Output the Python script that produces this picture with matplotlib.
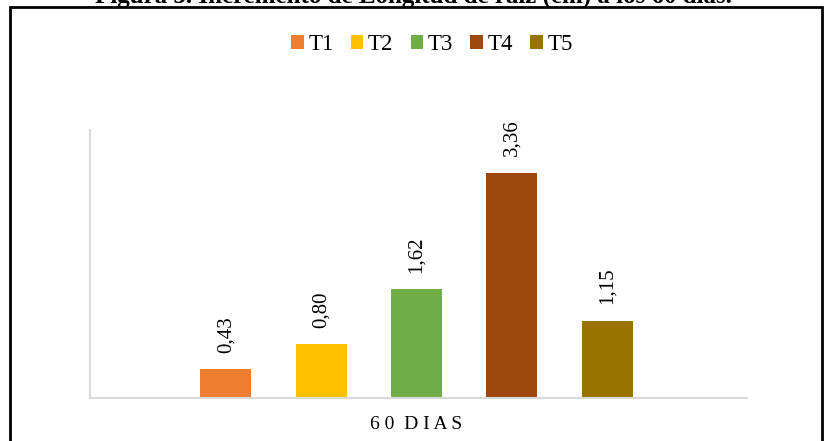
import matplotlib.pyplot as plt
from matplotlib.patches import Rectangle, Patch

# Incremento de longitud de raiz a los 60 dias
tratamientos = ['T1', 'T2', 'T3', 'T4', 'T5']
longitud = [0.43, 0.80, 1.62, 3.36, 1.15]
colores = ['#ED7D31', '#FFC000', '#70AD47', '#9E480E', '#997300']
grupo = '60 DIAS'

plt.rcParams['font.family'] = ['Liberation Serif', 'DejaVu Serif']

W, H = 830, 441
fig = plt.figure(figsize=(W / 100, H / 100), dpi=100)

# marco negro del grafico (el borde inferior queda fuera de la imagen)
fig.patches.append(Rectangle((10 / W, -0.1), 812 / W, 1.1 - 7 / H,
                             transform=fig.transFigure, fill=False,
                             edgecolor='black', linewidth=2))

fig.text(413 / W, 1 - 2.5 / H, 'Figura 3. Incremento de Longitud de raíz (cm) a los 60 días.',
         ha='center', va='baseline', fontsize=18, fontweight='bold')

ax = fig.add_axes([90 / W, 1 - 398 / H, 657 / W, 268 / H])

x = list(range(len(tratamientos)))
barras = ax.bar(x, longitud, width=0.535, color=colores, zorder=2)

for xi, v in zip(x, longitud):
    ax.annotate(f'{v:.2f}'.replace('.', ','), (xi, v), xytext=(0, 12),
                textcoords='offset points', rotation=90,
                ha='center', va='bottom', fontsize=15)

ax.set_ylim(0, 4)
ax.set_xlim(-1.426, 5.468)
ax.set_yticks([])
ax.set_xticks([2])
ax.set_xticklabels([' '.join(grupo).replace('   ', '  ')], fontsize=14)
ax.tick_params(axis='x', length=0, pad=13)

for lado in ['top', 'right']:
    ax.spines[lado].set_visible(False)
for lado in ['left', 'bottom']:
    ax.spines[lado].set_color('#D9D9D9')
    ax.spines[lado].set_linewidth(1.5)

handles = [Patch(facecolor=c, edgecolor='none') for c in colores]
fig.legend(handles, tratamientos, loc='center', bbox_to_anchor=(432 / W, 1 - 45 / H),
           ncol=5, frameon=False, fontsize=16.5, handlelength=0.55, handleheight=0.55,
           handletextpad=0.2, columnspacing=0.75, borderpad=0)

fig.savefig('out.png', dpi=100)
